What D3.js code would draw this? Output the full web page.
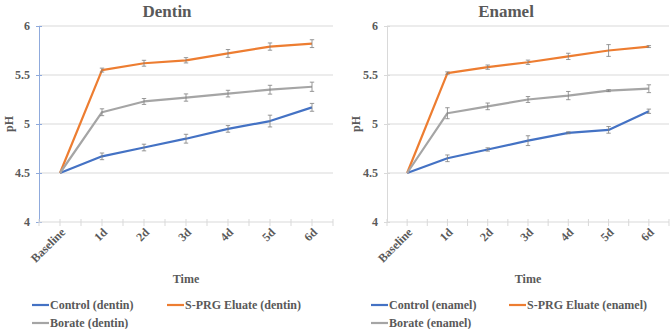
<!DOCTYPE html>
<html><head><meta charset="utf-8">
<script src="https://cdn.jsdelivr.net/npm/d3@7"></script>
<style>body{margin:0;background:#fff}svg{display:block}text{font-family:"Liberation Serif","Times New Roman",serif;font-weight:bold;fill:#595959}</style>
</head><body><svg id="c" width="671" height="329"></svg>
<script>
const categories = ["Baseline","1d","2d","3d","4d","5d","6d"];
const yTicks = [4,4.5,5,5.5,6];
const dentinControl = [4.5,4.67,4.76,4.85,4.95,5.03,5.17];
const dentinControlErr = [0,0.034,0.034,0.045,0.034,0.06,0.04];
const dentinSPRG = [4.5,5.55,5.62,5.65,5.72,5.79,5.82];
const dentinSPRGErr = [0,0.02,0.03,0.027,0.04,0.037,0.04];
const dentinBorate = [4.5,5.12,5.23,5.27,5.31,5.35,5.38];
const dentinBorateErr = [0,0.035,0.03,0.037,0.034,0.045,0.047];
const enamelControl = [4.5,4.65,4.74,4.83,4.91,4.94,5.13];
const enamelControlErr = [0,0.034,0.017,0.05,0.01,0.034,0.022];
const enamelSPRG = [4.5,5.52,5.58,5.63,5.69,5.75,5.79];
const enamelSPRGErr = [0,0.012,0.022,0.022,0.032,0.06,0.01];
const enamelBorate = [4.5,5.11,5.18,5.25,5.29,5.34,5.36];
const enamelBorateErr = [0,0.056,0.034,0.03,0.042,0.01,0.04];
const colors = {control:"#4472C4", sprg:"#ED7D31", borate:"#A5A5A5"};

const svg = d3.select("#c");
function chart(cfg){
  const g = svg.append("g");
  const x = d3.scaleBand().domain(categories).range([cfg.x0, cfg.x1]);
  const y = d3.scaleLinear().domain([4,6]).range([222,26]);
  g.append("text").attr("x",cfg.cx).attr("y",17).attr("text-anchor","middle").style("font-size","17px").text(cfg.title);
  g.selectAll(".grid").data(yTicks.slice(1)).join("line")
    .attr("x1",cfg.x0).attr("x2",cfg.x1).attr("y1",d=>y(d)).attr("y2",d=>y(d))
    .attr("stroke","#d9d9d9").attr("stroke-width",1);
  const ya = g.append("g").attr("transform",`translate(${cfg.x0},0)`)
    .call(d3.axisLeft(y).tickValues(yTicks).tickFormat(d=>Number.isInteger(d)?d3.format("d")(d):d3.format(".1f")(d)).tickSize(3).tickPadding(6));
  ya.select(".domain").attr("stroke",cfg.yAxisColor);
  ya.selectAll(".tick line").attr("stroke",cfg.yAxisColor).attr("x2",-3).attr("x1",3);
  ya.selectAll(".tick text").style("font-size","12px").attr("fill","#595959").style("font-family","Liberation Serif").style("font-weight","bold");
  const xa = g.append("g").attr("transform","translate(0,222)");
  xa.append("line").attr("x1",cfg.x0).attr("x2",cfg.x1).attr("stroke","#d9d9d9");
  const half = x.bandwidth()/2;
  const tickPos = [];
  for(let i=0;i<=categories.length*2;i++) tickPos.push(cfg.x0 + i*half);
  xa.selectAll(".xt").data(tickPos).join("line").attr("x1",d=>d).attr("x2",d=>d).attr("y1",-3).attr("y2",4).attr("stroke","#d9d9d9");
  xa.selectAll(".xl").data(categories).join("text")
    .attr("transform",d=>`translate(${x(d)+half+3},${8}) rotate(-45)`)
    .attr("text-anchor","end").attr("dy","0.35em").style("font-size","12px").text(d=>d);
  g.append("text").attr("x",(cfg.x0+cfg.x1)/2).attr("y",283).attr("text-anchor","middle").style("font-size","12px").text("Time");
  g.append("text").attr("transform",`translate(${cfg.phx},${y(5)}) rotate(-90)`).attr("text-anchor","middle").style("font-size","12px").text("pH");
  const line = d3.line().x((d,i)=>x(categories[i])+half).y(d=>y(d));
  cfg.series.forEach(s=>{
    g.append("path").attr("d",line(s.values)).attr("fill","none").attr("stroke",s.color).attr("stroke-width",2.2).attr("stroke-linejoin","round");
  });
  cfg.series.forEach(s=>{
    const eb = g.append("g");
    s.values.forEach((v,i)=>{
      const e = s.err[i]; if(!e) return;
      const cx = x(categories[i])+half;
      eb.append("line").attr("x1",cx).attr("x2",cx).attr("y1",y(v-e)).attr("y2",y(v+e)).attr("stroke","#7f7f7f").attr("stroke-width",0.8);
      [v-e,v+e].forEach(t=>eb.append("line").attr("x1",cx-2.2).attr("x2",cx+2.2).attr("y1",y(t)).attr("y2",y(t)).attr("stroke","#7f7f7f").attr("stroke-width",0.8));
    });
  });
  const leg = [
    {label:cfg.labels[0], color:colors.control, x:cfg.lx0, y:305},
    {label:cfg.labels[1], color:colors.sprg, x:cfg.lx1, y:305},
    {label:cfg.labels[2], color:colors.borate, x:cfg.lx0, y:323}
  ];
  leg.forEach(l=>{
    g.append("line").attr("x1",l.x).attr("x2",l.x+17).attr("y1",l.y).attr("y2",l.y).attr("stroke",l.color).attr("stroke-width",2.2);
    g.append("text").attr("x",l.x+18).attr("y",l.y).attr("dy","0.35em").style("font-size","12px").text(l.label);
  });
}
chart({title:"Dentin", cx:167, x0:39, x1:333, phx:13, yAxisColor:"#8FAADC", lx0:32, lx1:167,
  labels:["Control (dentin)","S-PRG Eluate (dentin)","Borate (dentin)"],
  series:[{values:dentinControl,err:dentinControlErr,color:colors.control},
          {values:dentinSPRG,err:dentinSPRGErr,color:colors.sprg},
          {values:dentinBorate,err:dentinBorateErr,color:colors.borate}]});
chart({title:"Enamel", cx:506, x0:387, x1:669, phx:360, yAxisColor:"#d9d9d9", lx0:371, lx1:509,
  labels:["Control (enamel)","S-PRG Eluate (enamel)","Borate (enamel)"],
  series:[{values:enamelControl,err:enamelControlErr,color:colors.control},
          {values:enamelSPRG,err:enamelSPRGErr,color:colors.sprg},
          {values:enamelBorate,err:enamelBorateErr,color:colors.borate}]});
</script></body></html>
